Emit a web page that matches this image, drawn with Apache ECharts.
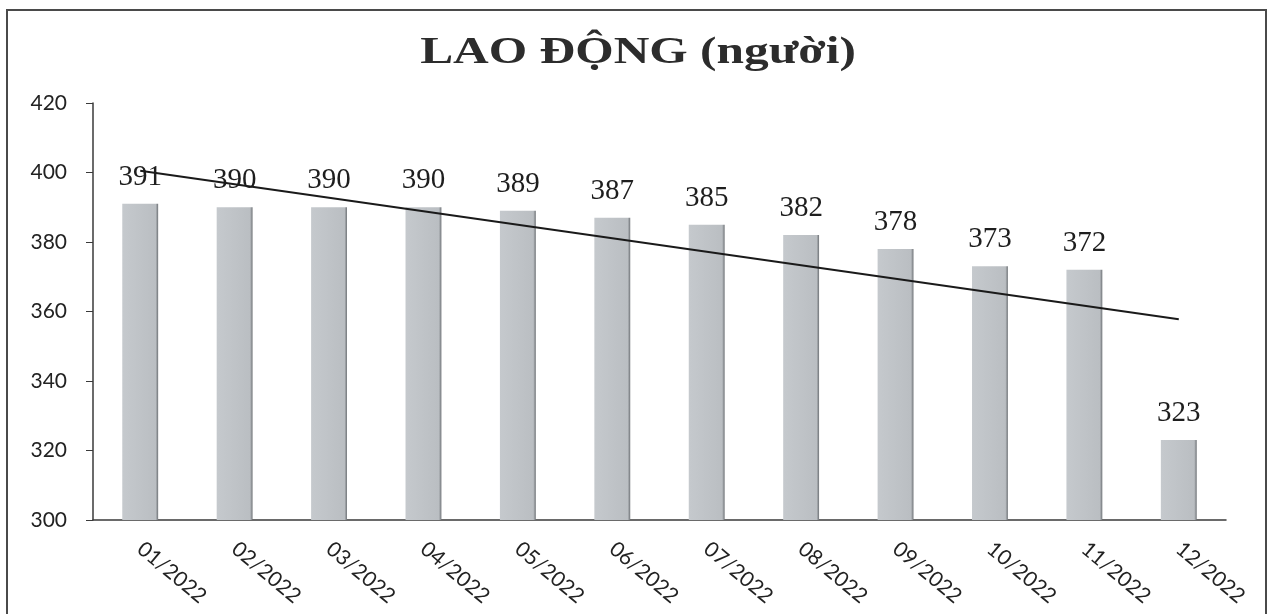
<!DOCTYPE html>
<html>
<head>
<meta charset="utf-8">
<style>
  html, body { margin: 0; padding: 0; background: #ffffff; }
  #chart { width: 1272px; height: 614px; }
</style>
<script src="https://cdn.jsdelivr.net/npm/echarts@6/dist/echarts.min.js"></script>
</head>
<body>
<div id="chart"></div>
<script>
// Monthly headcount, 2022
const months = ['01/2022', '02/2022', '03/2022', '04/2022', '05/2022', '06/2022',
                '07/2022', '08/2022', '09/2022', '10/2022', '11/2022', '12/2022'];
const workers = [391, 390, 390, 390, 389, 387, 385, 382, 378, 373, 372, 323];
// Linear trend line: values at the first and last month
const trendEnds = [400.5, 357.8];
const yTicks = { min: 300, max: 420, interval: 20 };
const chartTitle = 'LAO ĐỘNG (người)';

const chart = echarts.init(document.getElementById('chart'));

const axisFont = 'Lato, "Open Sans", sans-serif';
const serifFont = '"Liberation Serif", "Times New Roman", serif';

chart.setOption({
  animation: false,
  backgroundColor: '#ffffff',
  graphic: [
    {
      // frame around the chart area
      type: 'rect',
      shape: { x: 7, y: 10, width: 1259, height: 620 },
      style: { fill: 'none', stroke: '#4a4a4a', lineWidth: 2 },
      silent: true,
      z: -1
    },
    {
      // wide bold serif heading
      type: 'text',
      x: 638,
      y: 34,
      scaleX: 1.3,
      style: {
        text: chartTitle,
        align: 'center',
        verticalAlign: 'top',
        font: 'bold 38px ' + serifFont,
        fill: '#2c2c2c'
      },
      silent: true
    }
  ],
  grid: { left: 93, right: 46, top: 103, bottom: 94 },
  xAxis: {
    type: 'category',
    data: months,
    boundaryGap: true,
    axisLine: { lineStyle: { color: '#3a3a3a', width: 1.5 } },
    axisTick: { alignWithLabel: false, length: 5, lineStyle: { color: '#3a3a3a' } },
    axisLabel: {
      rotate: -40,
      margin: 26,
      fontFamily: axisFont,
      fontSize: 21,
      color: '#222'
    }
  },
  yAxis: {
    type: 'value',
    min: yTicks.min,
    max: yTicks.max,
    interval: yTicks.interval,
    splitLine: { show: false },
    axisLine: { show: true, lineStyle: { color: '#3a3a3a', width: 1.5 } },
    axisTick: { show: true, length: 7, lineStyle: { color: '#3a3a3a' } },
    axisLabel: {
      margin: 26,
      fontFamily: axisFont,
      fontSize: 21,
      color: '#222'
    }
  },
  series: [
    {
      type: 'bar',
      data: workers,
      barWidth: '38%',
      itemStyle: {
        color: {
          type: 'linear', x: 0, y: 0, x2: 1, y2: 0,
          colorStops: [
            { offset: 0, color: '#c5c9cd' },
            { offset: 0.93, color: '#babec2' },
            { offset: 1, color: '#6e7276' }
          ]
        }
      },
      label: {
        show: true,
        position: 'top',
        distance: 12,
        fontFamily: serifFont,
        fontSize: 29,
        color: '#1e1e1e'
      },
      z: 2
    },
    {
      type: 'line',
      data: [[0, trendEnds[0]], [months.length - 1, trendEnds[1]]],
      symbol: 'none',
      lineStyle: { color: '#1a1a1a', width: 2 },
      silent: true,
      z: 3
    }
  ]
});
</script>
</body>
</html>
